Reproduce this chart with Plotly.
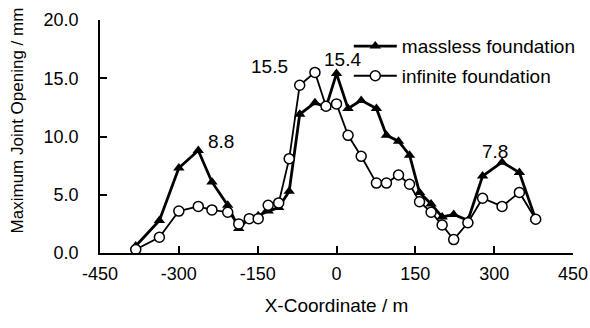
import plotly.graph_objects as go

x_coord = [-382, -337, -300, -263, -237, -207, -186, -166, -149, -130, -110, -90, -70, -41, -20, 0,
           22, 47, 76, 95, 118, 139, 158, 180, 201, 223, 250, 278, 315, 348, 379]
massless = [0.6, 2.8, 7.3, 8.8, 6.1, 4.1, 2.1, 3.0, 3.2, 3.6, 3.9, 5.3, 11.9, 12.9, 12.5, 15.4,
            12.4, 13.1, 12.4, 10.1, 9.6, 8.4, 5.2, 4.2, 3.1, 3.3, 2.8, 6.6, 7.8, 6.9, 2.9]
infinite = [0.3, 1.35, 3.6, 4.0, 3.7, 3.5, 2.5, 2.95, 2.95, 4.1, 4.3, 8.1, 14.4, 15.5, 12.6, 12.8,
            10.1, 8.3, 6.0, 6.0, 6.7, 5.9, 4.4, 3.5, 2.4, 1.15, 2.6, 4.7, 4.0, 5.2, 2.9]
x_ticks = [-450, -300, -150, 0, 150, 300, 450]
y_ticks = [0, 5, 10, 15, 20]
peak_labels = [(-263, 8.8, "8.8"), (-41, 15.5, "15.5"), (0, 15.4, "15.4"), (315, 7.8, "7.8")]

FONT = "Liberation Sans, Arial, sans-serif"
fig = go.Figure()
fig.add_trace(go.Scatter(
    x=x_coord, y=massless, mode="lines+markers", name="massless foundation",
    legendgroup="a",
    line=dict(color="black", width=2.8),
    marker=dict(symbol="triangle-up", size=10, color="black"),
))
fig.add_trace(go.Scatter(
    x=x_coord, y=infinite, mode="lines+markers", name="infinite foundation",
    legendgroup="b",
    line=dict(color="black", width=1.8),
    marker=dict(symbol="circle", size=10, color="white", line=dict(color="black", width=1.5)),
))

offsets = {"8.8": (43, 0.8), "15.5": (-86, 0.55), "15.4": (12, 1.25), "7.8": (-14, 0.9)}
for px, py, t in peak_labels:
    dx, dy = offsets[t]
    fig.add_annotation(x=px + dx, y=py + dy, text=t, showarrow=False,
                       font=dict(family=FONT, size=19, color="black"))

fig.add_annotation(xref="paper", yref="paper", x=-0.175, y=0.57, xanchor="center", yanchor="middle",
                   text="Maximum Joint Opening / mm",
                   textangle=-90, showarrow=False, font=dict(family=FONT, size=17, color="black"))

fig.update_layout(
    width=590, height=328,
    margin=dict(l=100, r=17, t=20, b=75, autoexpand=False),
    paper_bgcolor="white", plot_bgcolor="white",
    font=dict(family=FONT, size=18, color="black"),
    showlegend=True,
    legend=dict(x=0.526, y=0.969, xanchor="left", yanchor="top", bgcolor="rgba(0,0,0,0)",
                tracegroupgap=2, itemwidth=43, font=dict(size=19)),
    xaxis=dict(range=[-450, 450], tickvals=x_ticks, ticktext=[str(v) for v in x_ticks],
               showgrid=False, zeroline=False, showline=True, linecolor="black", linewidth=1.5,
               ticks="inside", ticklen=7, tickcolor="black", tickwidth=1.5,
               ticklabelstandoff=4, tickfont=dict(size=18),
               title=dict(text="X-Coordinate / m", font=dict(size=19), standoff=15)),
    yaxis=dict(range=[0, 20], tickvals=y_ticks, ticktext=["%.1f" % v for v in y_ticks],
               showgrid=False, zeroline=False, showline=True, linecolor="black", linewidth=1.5,
               ticks="inside", ticklen=7, tickcolor="black", tickwidth=1.5,
               ticklabelstandoff=16, tickfont=dict(size=18)),
)
fig.write_html("out.html", config={"displayModeBar": False},
               post_script="document.body.style.margin='0';document.body.style.padding='0';")
